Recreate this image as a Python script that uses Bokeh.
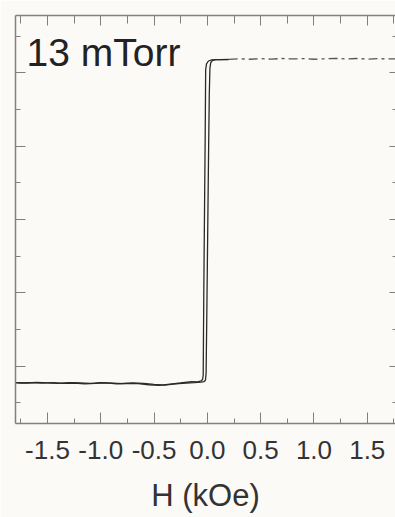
from bokeh.plotting import figure
from bokeh.models import LinearAxis, FixedTicker, Label, Range1d
from bokeh.embed import file_html
from bokeh.resources import INLINE

# ---------------- data ----------------
tick_vals = [-1.5, -1.0, -0.5, 0.0, 0.5, 1.0, 1.5]
tick_labels = ["-1.5", "-1.0", "-0.5", "0.0", "0.5", "1.0", "1.5"]
minor_x = [-1.75, -1.25, -0.75, -0.25, 0.25, 0.75, 1.25, 1.75]
y_major = [-1.0, -0.5, 0.0, 0.5, 1.0]
y_minor = [-1.25, -0.75, -0.25, 0.25, 0.75, 1.25]

# ascending branch (field swept from -H to +H)
x_up = [-1.80, -1.70, -1.60, -1.50, -1.40, -1.30, -1.20, -1.10, -1.00, -0.90,
        -0.80, -0.70, -0.60, -0.50, -0.40, -0.30, -0.20, -0.12, -0.06, -0.03,
        -0.018, -0.012, -0.006, 0.000, 0.006, 0.012, 0.018, 0.024, 0.032, 0.050,
        0.080, 0.120, 0.200]
y_up = [-1.112, -1.114, -1.110, -1.113, -1.116, -1.111, -1.114, -1.117, -1.112, -1.115,
        -1.118, -1.113, -1.116, -1.124, -1.128, -1.120, -1.114, -1.112, -1.108, -1.104,
        -1.095, -1.050, -0.700, -0.300, 0.100, 0.500, 0.850, 1.030, 1.070, 1.084,
        1.089, 1.090, 1.091]

# descending branch (field swept from +H to -H)
x_down = [0.200, 0.120, 0.080, 0.040, 0.010, -0.008, -0.016, -0.020, -0.025, -0.030,
          -0.034, -0.037, -0.039, -0.045, -0.060, -0.090, -0.15, -0.25, -0.35, -0.45,
          -0.55, -0.65, -0.75, -0.85, -0.95, -1.05, -1.15, -1.25, -1.35, -1.45,
          -1.55, -1.65, -1.75, -1.80]
y_down = [1.089, 1.090, 1.089, 1.087, 1.080, 1.060, 1.020, 0.600, 0.200, -0.200,
          -0.550, -0.850, -1.060, -1.090, -1.100, -1.106, -1.104, -1.114, -1.122, -1.130,
          -1.126, -1.118, -1.116, -1.119, -1.113, -1.117, -1.120, -1.114, -1.117, -1.112,
          -1.115, -1.111, -1.114, -1.112]

# saturated plateau at high field
x_sat = [0.20, 0.30, 0.40, 0.50, 0.60, 0.70, 0.80, 0.90, 1.00, 1.10,
         1.20, 1.30, 1.40, 1.50, 1.60, 1.70, 1.80]
y_sat = [1.091, 1.095, 1.092, 1.096, 1.093, 1.097, 1.094, 1.096, 1.092, 1.095,
         1.098, 1.094, 1.097, 1.093, 1.096, 1.094, 1.095]

sample_label = "13 mTorr"
x_title = "H (kOe)"

# ---------------- figure ----------------
BG = "#fcfaf7"
AX = "#808080"
FONT = "Liberation Sans"

p = figure(width=395, height=517, output_backend="svg", toolbar_location=None,
           x_range=Range1d(-1.8, 1.765), y_range=Range1d(-1.39, 1.39),
           min_border_left=15, min_border_right=0, min_border_top=15,
           min_border_bottom=94)
p.background_fill_color = BG
p.border_fill_color = BG
p.outline_line_color = None
p.grid.visible = False

p.line(x_up, y_up, line_color="#2a2a2a", line_width=1.3)
p.line(x_down, y_down, line_color="#2a2a2a", line_width=1.3)
p.line(x_sat, y_sat, line_color="#555555", line_width=1.3, line_dash="9 4 3 4")


def bare_axis(ax, ticks, minors, t_major, t_minor, line=True):
    ax.ticker = FixedTicker(ticks=ticks, minor_ticks=minors)
    ax.major_label_text_font_size = "1px"
    ax.major_label_text_color = None
    ax.major_label_text_alpha = 0
    ax.major_label_standoff = 0
    ax.major_tick_in = t_major
    ax.major_tick_out = 0
    ax.minor_tick_in = t_minor
    ax.minor_tick_out = 0
    ax.axis_line_color = AX if line else None
    ax.axis_line_width = 1.5
    ax.major_tick_line_color = AX
    ax.minor_tick_line_color = AX


# bottom axis
xa = p.xaxis[0]
xa.ticker = FixedTicker(ticks=tick_vals, minor_ticks=minor_x)
xa.major_label_overrides = {v: s for v, s in zip(tick_vals, tick_labels)}
xa.major_label_text_font = FONT
xa.major_label_text_font_size = "26px"
xa.major_label_text_color = "#333333"
xa.major_label_standoff = 17
xa.major_tick_in = 11
xa.major_tick_out = 0
xa.minor_tick_in = 5
xa.minor_tick_out = 0
xa.axis_line_color = AX
xa.axis_line_width = 1.5
xa.major_tick_line_color = AX
xa.minor_tick_line_color = AX
xa.axis_label = x_title
xa.axis_label_text_font = FONT
xa.axis_label_text_font_size = "31px"
xa.axis_label_text_font_style = "normal"
xa.axis_label_text_color = "#333333"
xa.axis_label_standoff = 16

# left axis
bare_axis(p.yaxis[0], y_major, y_minor, 10, 5)

# top axis
ta = LinearAxis()
bare_axis(ta, tick_vals, minor_x, 10, 8)
p.add_layout(ta, "above")

# right axis (frame edge at the image border)
ra = LinearAxis()
bare_axis(ra, y_major, y_minor, 6, 3, line=False)
p.add_layout(ra, "right")

p.add_layout(Label(x=-1.696, y=1.138, text=sample_label, text_font=FONT,
                   text_font_size="39px", text_color="#222222",
                   text_baseline="alphabetic"))

open("out.html", "w").write(file_html(p, INLINE))
